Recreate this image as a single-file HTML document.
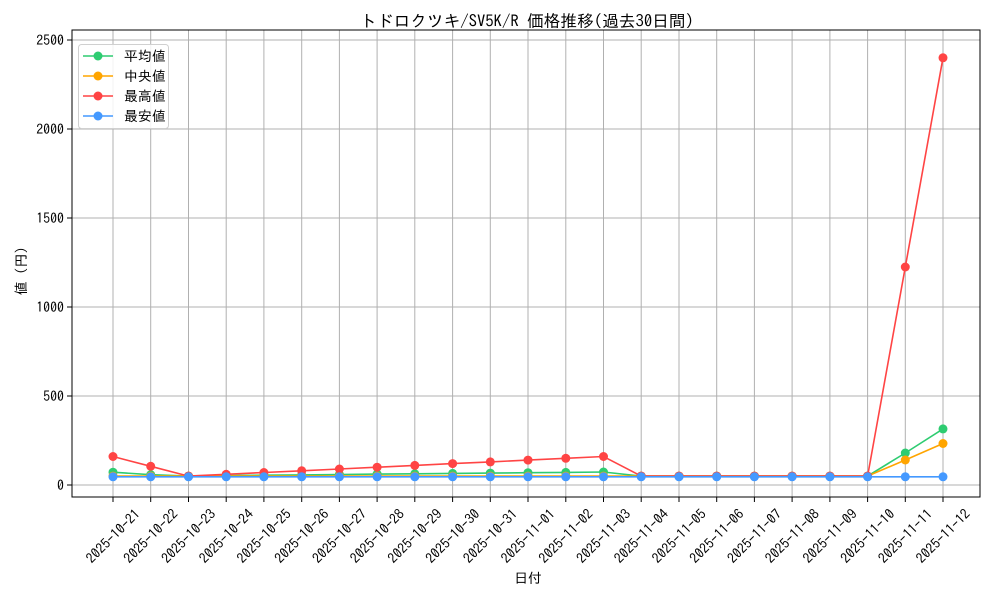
<!DOCTYPE html>
<html><head><meta charset="utf-8"><style>
body{margin:0;background:#fff}
svg text{font-family:"IPAGothic","Noto Sans CJK JP",sans-serif;fill:#000}
</style></head><body>
<svg width="1000" height="600" xmlns="http://www.w3.org/2000/svg">
<rect width="1000" height="600" fill="#fff"/>
<text x="527" y="27" font-size="16.7" text-anchor="middle">トドロクツキ/SV5K/R 価格推移(過去30日間)</text>
<g stroke="#b0b0b0" stroke-width="1">
<line x1="113" y1="30" x2="113" y2="497"/><line x1="150.7" y1="30" x2="150.7" y2="497"/><line x1="188.5" y1="30" x2="188.5" y2="497"/><line x1="226.2" y1="30" x2="226.2" y2="497"/><line x1="263.9" y1="30" x2="263.9" y2="497"/><line x1="301.7" y1="30" x2="301.7" y2="497"/><line x1="339.4" y1="30" x2="339.4" y2="497"/><line x1="377.1" y1="30" x2="377.1" y2="497"/><line x1="414.8" y1="30" x2="414.8" y2="497"/><line x1="452.6" y1="30" x2="452.6" y2="497"/><line x1="490.3" y1="30" x2="490.3" y2="497"/><line x1="528" y1="30" x2="528" y2="497"/><line x1="565.8" y1="30" x2="565.8" y2="497"/><line x1="603.5" y1="30" x2="603.5" y2="497"/><line x1="641.2" y1="30" x2="641.2" y2="497"/><line x1="679" y1="30" x2="679" y2="497"/><line x1="716.7" y1="30" x2="716.7" y2="497"/><line x1="754.4" y1="30" x2="754.4" y2="497"/><line x1="792.1" y1="30" x2="792.1" y2="497"/><line x1="829.9" y1="30" x2="829.9" y2="497"/><line x1="867.6" y1="30" x2="867.6" y2="497"/><line x1="905.3" y1="30" x2="905.3" y2="497"/><line x1="943" y1="30" x2="943" y2="497"/>
<line x1="72" y1="485" x2="980" y2="485"/><line x1="72" y1="396" x2="980" y2="396"/><line x1="72" y1="307" x2="980" y2="307"/><line x1="72" y1="218" x2="980" y2="218"/><line x1="72" y1="129" x2="980" y2="129"/><line x1="72" y1="40" x2="980" y2="40"/>
</g>
<rect x="72" y="30" width="908" height="467" fill="none" stroke="#000" stroke-width="1"/>
<g stroke="#000"><line x1="67" y1="485" x2="72" y2="485"/><line x1="67" y1="396" x2="72" y2="396"/><line x1="67" y1="307" x2="72" y2="307"/><line x1="67" y1="218" x2="72" y2="218"/><line x1="67" y1="129" x2="72" y2="129"/><line x1="67" y1="40" x2="72" y2="40"/></g>
<g font-size="13.9" text-anchor="end">
<text x="64" y="490">0</text><text x="64" y="401">500</text><text x="64" y="312">1000</text><text x="64" y="223">1500</text><text x="64" y="134">2000</text><text x="64" y="45">2500</text>
</g>
<text transform="translate(26,271) rotate(-90)" font-size="13.9" text-anchor="middle">値 (円)</text>
<text x="528" y="583" font-size="13.9" text-anchor="middle">日付</text>
<g font-size="13.9" text-anchor="middle" dominant-baseline="central">
<text transform="translate(113,536) rotate(-45)">2025-10-21</text><text transform="translate(150.7,536) rotate(-45)">2025-10-22</text><text transform="translate(188.5,536) rotate(-45)">2025-10-23</text><text transform="translate(226.2,536) rotate(-45)">2025-10-24</text><text transform="translate(263.9,536) rotate(-45)">2025-10-25</text><text transform="translate(301.7,536) rotate(-45)">2025-10-26</text><text transform="translate(339.4,536) rotate(-45)">2025-10-27</text><text transform="translate(377.1,536) rotate(-45)">2025-10-28</text><text transform="translate(414.8,536) rotate(-45)">2025-10-29</text><text transform="translate(452.6,536) rotate(-45)">2025-10-30</text><text transform="translate(490.3,536) rotate(-45)">2025-10-31</text><text transform="translate(528,536) rotate(-45)">2025-11-01</text><text transform="translate(565.8,536) rotate(-45)">2025-11-02</text><text transform="translate(603.5,536) rotate(-45)">2025-11-03</text><text transform="translate(641.2,536) rotate(-45)">2025-11-04</text><text transform="translate(679,536) rotate(-45)">2025-11-05</text><text transform="translate(716.7,536) rotate(-45)">2025-11-06</text><text transform="translate(754.4,536) rotate(-45)">2025-11-07</text><text transform="translate(792.1,536) rotate(-45)">2025-11-08</text><text transform="translate(829.9,536) rotate(-45)">2025-11-09</text><text transform="translate(867.6,536) rotate(-45)">2025-11-10</text><text transform="translate(905.3,536) rotate(-45)">2025-11-11</text><text transform="translate(943,536) rotate(-45)">2025-11-12</text>
</g>
<g stroke="#000"><line x1="113" y1="497" x2="113" y2="502"/><line x1="150.7" y1="497" x2="150.7" y2="502"/><line x1="188.5" y1="497" x2="188.5" y2="502"/><line x1="226.2" y1="497" x2="226.2" y2="502"/><line x1="263.9" y1="497" x2="263.9" y2="502"/><line x1="301.7" y1="497" x2="301.7" y2="502"/><line x1="339.4" y1="497" x2="339.4" y2="502"/><line x1="377.1" y1="497" x2="377.1" y2="502"/><line x1="414.8" y1="497" x2="414.8" y2="502"/><line x1="452.6" y1="497" x2="452.6" y2="502"/><line x1="490.3" y1="497" x2="490.3" y2="502"/><line x1="528" y1="497" x2="528" y2="502"/><line x1="565.8" y1="497" x2="565.8" y2="502"/><line x1="603.5" y1="497" x2="603.5" y2="502"/><line x1="641.2" y1="497" x2="641.2" y2="502"/><line x1="679" y1="497" x2="679" y2="502"/><line x1="716.7" y1="497" x2="716.7" y2="502"/><line x1="754.4" y1="497" x2="754.4" y2="502"/><line x1="792.1" y1="497" x2="792.1" y2="502"/><line x1="829.9" y1="497" x2="829.9" y2="502"/><line x1="867.6" y1="497" x2="867.6" y2="502"/><line x1="905.3" y1="497" x2="905.3" y2="502"/><line x1="943" y1="497" x2="943" y2="502"/></g>

<defs>
<marker id="mg" markerWidth="10" markerHeight="10" refX="5" refY="5" markerUnits="userSpaceOnUse"><circle cx="5" cy="5" r="4.5" fill="#2ecc71"/></marker>
<marker id="mo" markerWidth="10" markerHeight="10" refX="5" refY="5" markerUnits="userSpaceOnUse"><circle cx="5" cy="5" r="4.5" fill="#ffa500"/></marker>
<marker id="mr" markerWidth="10" markerHeight="10" refX="5" refY="5" markerUnits="userSpaceOnUse"><circle cx="5" cy="5" r="4.5" fill="#ff4444"/></marker>
<marker id="mb" markerWidth="10" markerHeight="10" refX="5" refY="5" markerUnits="userSpaceOnUse"><circle cx="5" cy="5" r="4.5" fill="#4499ff"/></marker>
</defs>
<g fill="none" stroke-width="1.6">
<polyline stroke="#2ecc71" marker-start="url(#mg)" marker-mid="url(#mg)" marker-end="url(#mg)" points="113,472.2 150.7,474.7 188.5,476.1 226.2,475.6 263.9,475.2 301.7,474.9 339.4,474.5 377.1,474.1 414.8,473.8 452.6,473.4 490.3,473.1 528,472.7 565.8,472.4 603.5,472 641.2,476.1 679,476.1 716.7,476.1 754.4,476.1 792.1,476.1 829.9,476.1 867.6,476.1 905.3,453 943,428.9"/>
<polyline stroke="#ffa500" marker-start="url(#mo)" marker-mid="url(#mo)" marker-end="url(#mo)" points="113,476.1 150.7,476.1 188.5,476.1 226.2,476.1 263.9,476.1 301.7,476.1 339.4,476.1 377.1,476.1 414.8,476.1 452.6,476.1 490.3,476.1 528,476.1 565.8,476.1 603.5,476.1 641.2,476.1 679,476.1 716.7,476.1 754.4,476.1 792.1,476.1 829.9,476.1 867.6,476.1 905.3,460 943,443.5"/>
<polyline stroke="#ff4444" marker-start="url(#mr)" marker-mid="url(#mr)" marker-end="url(#mr)" points="113,456.5 150.7,466.3 188.5,476.1 226.2,474.3 263.9,472.5 301.7,470.8 339.4,469 377.1,467.2 414.8,465.4 452.6,463.6 490.3,461.9 528,460.1 565.8,458.3 603.5,456.5 641.2,476.1 679,476.1 716.7,476.1 754.4,476.1 792.1,476.1 829.9,476.1 867.6,476.1 905.3,267 943,57.8"/>
<polyline stroke="#4499ff" marker-start="url(#mb)" marker-mid="url(#mb)" marker-end="url(#mb)" points="113,476.8 150.7,476.8 188.5,476.8 226.2,476.8 263.9,476.8 301.7,476.8 339.4,476.8 377.1,476.8 414.8,476.8 452.6,476.8 490.3,476.8 528,476.8 565.8,476.8 603.5,476.8 641.2,476.8 679,476.8 716.7,476.8 754.4,476.8 792.1,476.8 829.9,476.8 867.6,476.8 905.3,476.8 943,476.8"/>
</g>
<rect x="78.5" y="44.5" width="90" height="84" rx="3" fill="#fff" fill-opacity="0.85" stroke="#d0d0d0"/>
<g stroke-width="1.6">
<line x1="83" y1="56" x2="113" y2="56" stroke="#2ecc71"/><circle cx="98" cy="56" r="4.5" fill="#2ecc71"/>
<line x1="83" y1="76" x2="113" y2="76" stroke="#ffa500"/><circle cx="98" cy="76" r="4.5" fill="#ffa500"/>
<line x1="83" y1="96" x2="113" y2="96" stroke="#ff4444"/><circle cx="98" cy="96" r="4.5" fill="#ff4444"/>
<line x1="83" y1="116" x2="113" y2="116" stroke="#4499ff"/><circle cx="98" cy="116" r="4.5" fill="#4499ff"/>
</g>
<g font-size="13.9"><text x="124" y="61">平均値</text><text x="124" y="81">中央値</text><text x="124" y="101">最高値</text><text x="124" y="121">最安値</text></g>
</svg>
</body></html>
